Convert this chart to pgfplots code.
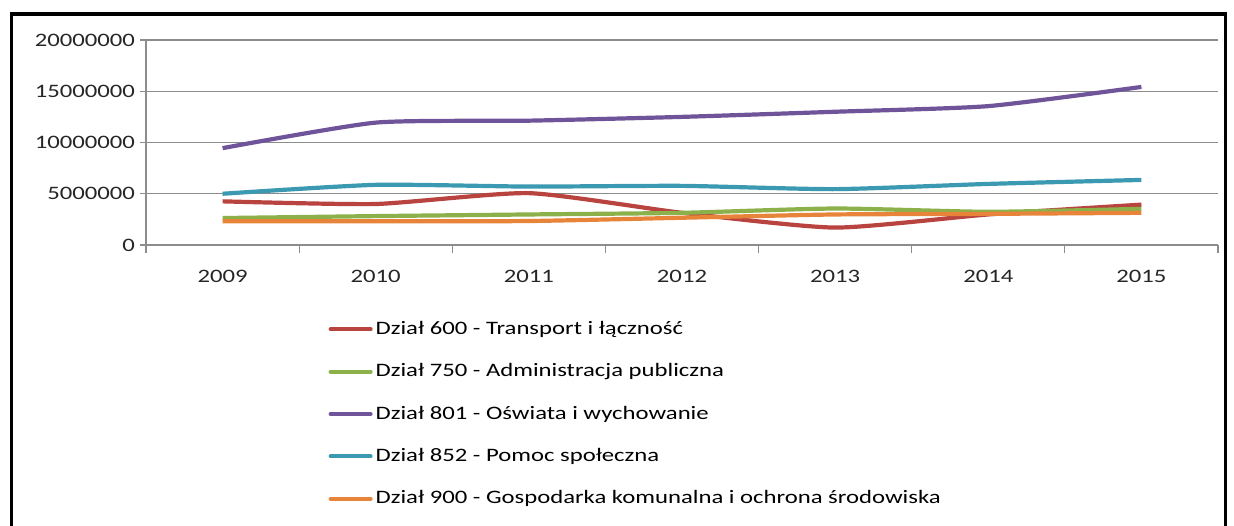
\documentclass[border=0pt]{standalone}
\usepackage{pgfplots}
\pgfplotsset{compat=1.18}
\usepackage{fontspec}
\setmainfont[FakeStretch=1.3]{Carlito}
\definecolor{cRed}{HTML}{B8433F}
\definecolor{cGreen}{HTML}{8CB04A}
\definecolor{cPurple}{HTML}{70549A}
\definecolor{cCyan}{HTML}{3B9AB2}
\definecolor{cOrange}{HTML}{E8843A}
\definecolor{gridg}{HTML}{8C8C8C}
\begin{document}
\begin{tikzpicture}
\begin{axis}[
  at={(0,0)}, anchor=south west,
  scale only axis, width=536pt, height=102.5pt,
  xmin=-0.5, xmax=6.5, ymin=0, ymax=20000000,
  xtick={0,...,6}, xticklabels={2009,2010,2011,2012,2013,2014,2015},
  minor xtick={-0.5,0.5,...,6.5},
  major x tick style={draw=none},
  minor x tick style={gridg, line width=0.6pt},
  ytick={0,5000000,10000000,15000000,20000000},
  scaled y ticks=false,
  yticklabel style={/pgf/number format/fixed, /pgf/number format/1000 sep={}},
  /pgf/number format/assume math mode=true,
  tick align=outside,
  major tick length=3pt, minor tick length=4pt,
  y tick style={gridg, line width=0.6pt},
  axis x line*=bottom, axis y line*=left,
  axis line style={gridg, line width=0.6pt, -},
  ymajorgrids, grid style={gridg, line width=0.6pt},
  tick label style={font=\fontsize{9.5}{11}\selectfont, text=black!85},
  xticklabel style={yshift=-6pt},
  yticklabel style={xshift=1pt},
  every axis plot/.append style={line width=2.1pt, smooth, tension=0.35},
  legend style={at={(0.17,-0.355)}, anchor=north west, draw=none, fill=none,
    font=\fontsize{9.5}{11}\selectfont, row sep=10.1pt, inner sep=0pt,
    nodes={inner sep=1.5pt}},
  legend cell align=left,
  legend image code/.code={\draw[line width=2pt, line cap=round, #1] (0pt,0pt) -- (20pt,0pt);},
]
\addplot[cRed] coordinates {(0,4260000) (1,4000000) (2,5060000) (3,3140000) (4,1700000) (5,2980000) (6,3940000)};
\addlegendentry{Dział 600 - Transport i łączność}
\addplot[cGreen] coordinates {(0,2630000) (1,2820000) (2,2980000) (3,3140000) (4,3560000) (5,3240000) (6,3530000)};
\addlegendentry{Dział 750 - Administracja publiczna}
\addplot[cPurple] coordinates {(0,9450000) (1,11940000) (2,12130000) (3,12500000) (4,13000000) (5,13550000) (6,15420000)};
\addlegendentry{Dział 801 - Oświata i wychowanie}
\addplot[cCyan] coordinates {(0,5000000) (1,5870000) (2,5700000) (3,5770000) (4,5450000) (5,5960000) (6,6350000)};
\addlegendentry{Dział 852 - Pomoc społeczna}
\addplot[cOrange] coordinates {(0,2310000) (1,2310000) (2,2340000) (3,2660000) (4,2980000) (5,3040000) (6,3140000)};
\addlegendentry{Dział 900 - Gospodarka komunalna i ochrona środowiska}
\end{axis}
\draw[line width=1.6pt, black] (-67.25pt,-160pt) -- (-67.25pt,115.5pt) -- (539.75pt,115.5pt) -- (539.75pt,-160pt);
\pgfresetboundingbox
\path (-73pt,-140pt) rectangle (544pt,122.5pt);
\end{tikzpicture}
\end{document}
